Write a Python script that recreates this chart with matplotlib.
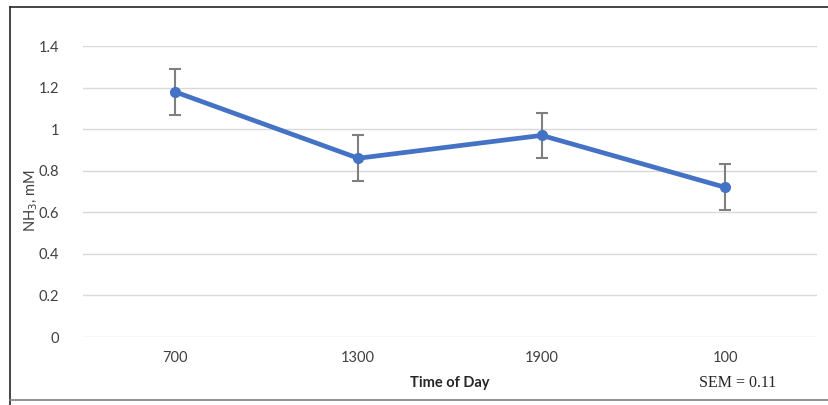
import matplotlib
matplotlib.use("Agg")
import matplotlib.pyplot as plt
from matplotlib.lines import Line2D

times = ["700", "1300", "1900", "100"]
nh3 = [1.18, 0.86, 0.97, 0.72]
sem = [0.11, 0.11, 0.11, 0.11]
yticks = [0, 0.2, 0.4, 0.6, 0.8, 1.0, 1.2, 1.4]
ytick_labels = ["0", "0.2", "0.4", "0.6", "0.8", "1", "1.2", "1.4"]

plt.rcParams["font.family"] = ["Lato", "DejaVu Sans"]

fig = plt.figure(figsize=(8.29, 4.05), dpi=100)
ax = fig.add_axes([0.1001, 0.1679, 0.8854, 0.7185])

x = list(range(len(times)))
ax.errorbar(x, nh3, yerr=sem, fmt="none", ecolor="#7f7f7f", elinewidth=1.5,
            capsize=4, capthick=1.5, zorder=2)
ax.plot(x, nh3, color="#4472C4", lw=3.4, marker="o", ms=7, zorder=3)

ax.set_xlim(-0.5, len(times) - 0.5)
ax.set_ylim(0, 1.4)
ax.set_xticks(x)
ax.set_xticklabels(times)
ax.set_yticks(yticks)
ax.set_yticklabels(ytick_labels)
ax.tick_params(length=0, labelsize=10.5, colors="#404040", pad=10)
ax.tick_params(axis="y", pad=17)
ax.grid(axis="y", color="#d9d9d9", lw=1)
ax.set_axisbelow(True)
for s in ax.spines.values():
    s.set_visible(False)

ax.set_ylabel("NH$_3$, mM", fontsize=10.5, color="#404040")
ax.yaxis.set_label_coords(-0.058, 0.47)
fig.text(0.542, 0.055, "Time of Day", ha="center", va="center",
         fontsize=10.5, fontweight="bold", color="#262626")
fig.text(0.89, 0.055, "SEM = 0.11", ha="center", va="center",
         fontsize=11.5, family="Liberation Serif", color="#262626")

# border around the figure
fig.add_artist(Line2D([10 / 829, 1.0], [1 - 7 / 405, 1 - 7 / 405], color="#262626", lw=1.2))
fig.add_artist(Line2D([10 / 829, 10 / 829], [0, 1 - 7 / 405], color="#262626", lw=1.2))
fig.add_artist(Line2D([10 / 829, 1.0], [5 / 405, 5 / 405], color="#7f7f7f", lw=1.2))

fig.savefig("out.png", dpi=100)
